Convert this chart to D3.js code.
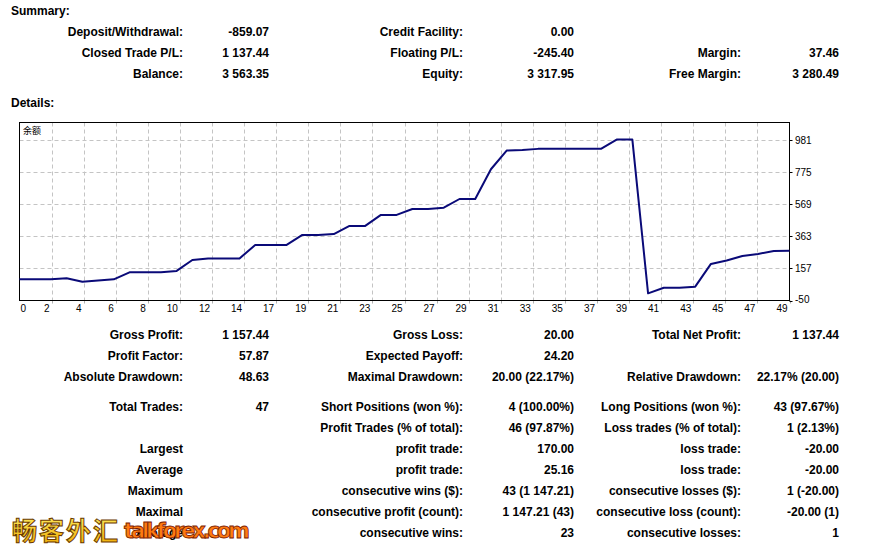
<!DOCTYPE html>
<html><head><meta charset="utf-8">
<script src="https://cdn.jsdelivr.net/npm/d3@7"></script>
<style>
body{margin:0;background:#fff;}
svg{display:block;font-family:"Liberation Sans",Arial,sans-serif;}
</style>
</head><body><svg id="c" width="869" height="548"></svg>
<script>
// ---- data ----
const trades = d3.range(50);
const balance = [86,86,86,93,71,79,86,131,131,131,140,210,220,220,220,307,307,307,371,371,377,429,429,500,500,538,538,546,602,602,793,913,917,924,924,924,924,924,984,984,-4,32,32,39,185,207,236,249,268,270];
const yTicks = [-50,157,363,569,775,981];
const xTickLabels = ["0","2","4","6","8","10","12","14","17","19","21","23","25","27","29","31","33","35","37","39","41","43","45","47","49"];
const seriesName = "余额";

const summaryRows = [
  ["Deposit/Withdrawal:","-859.07","Credit Facility:","0.00","",""],
  ["Closed Trade P/L:","1 137.44","Floating P/L:","-245.40","Margin:","37.46"],
  ["Balance:","3 563.35","Equity:","3 317.95","Free Margin:","3 280.49"]
];
const detailRows = [
  ["Gross Profit:","1 157.44","Gross Loss:","20.00","Total Net Profit:","1 137.44"],
  ["Profit Factor:","57.87","Expected Payoff:","24.20","",""],
  ["Absolute Drawdown:","48.63","Maximal Drawdown:","20.00 (22.17%)","Relative Drawdown:","22.17% (20.00)"],
  ["Total Trades:","47","Short Positions (won %):","4 (100.00%)","Long Positions (won %):","43 (97.67%)"],
  ["","","Profit Trades (% of total):","46 (97.87%)","Loss trades (% of total):","1 (2.13%)"],
  ["Largest","","profit trade:","170.00","loss trade:","-20.00"],
  ["Average","","profit trade:","25.16","loss trade:","-20.00"],
  ["Maximum","","consecutive wins ($):","43 (1 147.21)","consecutive losses ($):","1 (-20.00)"],
  ["Maximal","","consecutive profit (count):","1 147.21 (43)","consecutive loss (count):","-20.00 (1)"],
  ["Average","","consecutive wins:","23","consecutive losses:","1"]
];

// ---- layout ----
const svg = d3.select("#c");
const L = 19.5, R = 789.5, T = 122.5, B = 300.5;
const x = d3.scaleLinear().domain([0, 49]).range([L, R]);
const gx = d3.scaleLinear().domain([0, xTickLabels.length - 1]).range([L, R]);
const y = d3.scaleLinear().domain([-50, 981]).range([B, 140]);

// text tables
const colX = [183, 269, 463, 574, 741, 839];
function drawRows(rows, ys){
  rows.forEach((r, i) => {
    r.forEach((t, j) => {
      if (!t) return;
      svg.append("text").attr("x", colX[j]).attr("y", ys[i] + 4)
        .attr("text-anchor", "end").attr("font-size", 12).attr("font-weight", "bold")
        .attr("fill", "#000").text(t);
    });
  });
}
svg.append("text").attr("x", 11).attr("y", 15).attr("font-size", 12).attr("font-weight","bold").text("Summary:");
svg.append("text").attr("x", 11).attr("y", 107).attr("font-size", 12).attr("font-weight","bold").text("Details:");
drawRows(summaryRows, [32, 53, 74]);
drawRows(detailRows, [335, 356, 377, 407, 428, 449, 470, 491, 512, 533]);

// grid
const g = svg.append("g");
g.selectAll(".hg").data(yTicks.filter(d => d > -50)).enter().append("line")
  .attr("x1", L).attr("x2", R).attr("y1", d => Math.round(y(d)) + 0.5).attr("y2", d => Math.round(y(d)) + 0.5)
  .attr("stroke", "#c4c4c4").attr("stroke-dasharray", "4,3");
g.selectAll(".vg").data(d3.range(1, xTickLabels.length - 1)).enter().append("line")
  .attr("x1", d => Math.round(gx(d)) + 0.5).attr("x2", d => Math.round(gx(d)) + 0.5).attr("y1", T).attr("y2", B)
  .attr("stroke", "#c4c4c4").attr("stroke-dasharray", "4,3");

// bottom tick marks
g.selectAll(".bt").data(d3.range(1, xTickLabels.length)).enter().append("line")
  .attr("x1", d => Math.round(gx(d)) + 0.5).attr("x2", d => Math.round(gx(d)) + 0.5).attr("y1", B).attr("y2", B + 3)
  .attr("stroke", "#b0b0b0");
// right tick marks
g.selectAll(".rt").data(yTicks).enter().append("line")
  .attr("x1", R).attr("x2", R + 3).attr("y1", d => Math.round(y(d)) + 0.5).attr("y2", d => Math.round(y(d)) + 0.5)
  .attr("stroke", "#000");

// box
svg.append("rect").attr("x", L).attr("y", T).attr("width", R - L).attr("height", B - T)
  .attr("fill", "none").attr("stroke", "#000");

// labels
svg.selectAll(".yl").data(yTicks).enter().append("text")
  .attr("x", 795).attr("y", d => y(d) + 4 - (d === -50 ? 2 : 0)).attr("font-size", 10).attr("fill", "#000").text(d => d);
svg.selectAll(".xl").data(xTickLabels).enter().append("text")
  .attr("x", (d, i) => i === 0 ? L + 1 : gx(i) - 2)
  .attr("y", 312).attr("font-size", 10).attr("fill", "#000")
  .attr("text-anchor", (d, i) => i === 0 ? "start" : "end").text(d => d);
svg.append("text").attr("x", 23).attr("y", 134).attr("font-size", 9)
  .attr("font-family", "'Noto Sans CJK SC'").text(seriesName);

// line
const line = d3.line().x((d, i) => x(trades[i])).y(d => y(d));
svg.append("path").datum(balance).attr("d", line).attr("fill", "none")
  .attr("stroke", "#0a0a78").attr("stroke-width", 2).attr("stroke-linejoin", "round");

// watermark
const defs = svg.append("defs");
const gr = defs.append("linearGradient").attr("id", "wm").attr("x1", 0).attr("y1", 0).attr("x2", 0).attr("y2", 1);
gr.append("stop").attr("offset", "0%").attr("stop-color", "#fff36a");
gr.append("stop").attr("offset", "100%").attr("stop-color", "#f0a800");
svg.append("text").attr("x", 12).attr("y", 540).attr("font-size", 25).attr("font-weight", "bold")
  .attr("font-family", "'Noto Sans CJK SC'").attr("fill", "url(#wm)").attr("stroke", "#6b3a00")
  .attr("stroke-width", 1).attr("letter-spacing", 2).text("畅客外汇");
svg.append("text").attr("x", 124).attr("y", 538).attr("font-size", 21).attr("font-weight", "bold")
  .attr("font-family", "'DejaVu Sans'").attr("fill", "#ff7a10").attr("stroke", "#7a1a00")
  .attr("stroke-width", 0.8).attr("textLength", 126).text("talkforex.com");
</script>
</body></html>
